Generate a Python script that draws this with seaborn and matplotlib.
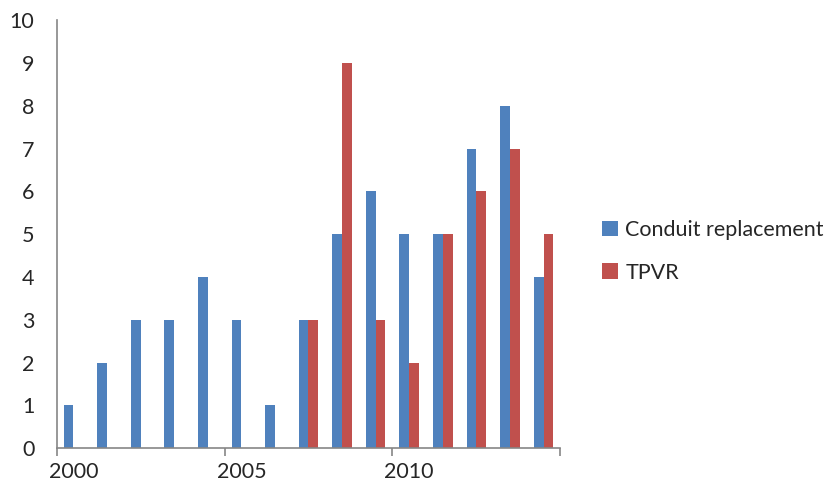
import numpy as np
import pandas as pd
import matplotlib
matplotlib.use("Agg")
import matplotlib.pyplot as plt
import seaborn as sns

years = list(range(2000, 2015))
conduit = [1, 2, 3, 3, 4, 3, 1, 3, 5, 6, 5, 5, 7, 8, 4]
tpvr = [0, 0, 0, 0, 0, 0, 0, 3, 9, 3, 2, 5, 6, 7, 5]

df = pd.DataFrame({
    "year": years * 2,
    "count": conduit + tpvr,
    "series": ["Conduit replacement"] * len(years) + ["TPVR"] * len(years),
})

sns.set_style("white")
plt.rcParams["font.family"] = ["Lato", "DejaVu Sans"]

fig = plt.figure(figsize=(8.27, 4.9), dpi=100)
ax = fig.add_axes([0.0685, 0.0857, 0.609, 0.8725])

sns.barplot(data=df, x="year", y="count", hue="series",
            palette=["#4F81BD", "#C0504D"], saturation=1, width=0.58,
            linewidth=0, ax=ax, legend=True)

ax.set_xlim(-0.5, 14.5)
ax.set_ylim(0, 10)
ax.set_yticks(range(0, 11))
ax.set_xlabel("")
ax.set_ylabel("")

# ticks at year boundaries, labels centred on the years
ax.set_xticks([-0.5, 4.5, 9.5, 14.5])
ax.set_xticklabels([])
ax.set_xticks([0, 5, 10], minor=True)
ax.set_xticklabels(["2000", "2005", "2010"], minor=True)

gray = "#868686"
txt = "#262626"
for s in ["top", "right"]:
    ax.spines[s].set_visible(False)
for s in ["left", "bottom"]:
    ax.spines[s].set_color(gray)
    ax.spines[s].set_linewidth(1.2)

ax.tick_params(axis="both", which="major", direction="out", length=7,
               width=1.2, color=gray, labelsize=15.5, labelcolor=txt)
ax.tick_params(axis="x", which="major", bottom=True, length=6)
ax.tick_params(axis="x", which="minor", bottom=True, length=0, pad=10,
               labelsize=15.5, labelcolor=txt)
ax.tick_params(axis="y", pad=9)

handles, labels = ax.get_legend_handles_labels()
ax.legend_.remove()
fig.legend(handles, labels, loc="center left", bbox_to_anchor=(0.704, 0.487),
           frameon=False, fontsize=15.5, handlelength=0.75, handleheight=0.75,
           handletextpad=0.35, labelspacing=1.05, labelcolor=txt)

fig.savefig("out.png", dpi=100)
